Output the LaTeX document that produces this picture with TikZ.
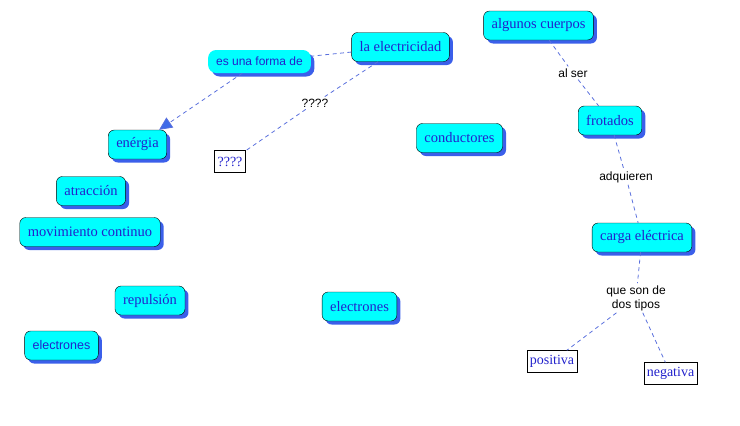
\documentclass[tikz,border=0pt]{standalone}
\usepackage{fontspec}
\setmainfont{Liberation Serif}
\setsansfont{Liberation Sans}
\usetikzlibrary{arrows.meta,shadows}
\definecolor{conceptfill}{HTML}{00FFFF}
\definecolor{conceptshadow}{HTML}{3B5FEA}
\definecolor{concepttext}{HTML}{2222CC}
\definecolor{linkblue}{HTML}{5A70DD}
\definecolor{arrowblue}{HTML}{3F6BE8}
\tikzset{
	concept/.style={rectangle, rounded corners=6pt, draw=black, fill=conceptfill,
		text=concepttext, font=\fontsize{14.5}{16}\selectfont, inner xsep=8pt,
		minimum height=29pt,
		drop shadow={shadow xshift=3.5pt, shadow yshift=-3.5pt, fill=conceptshadow, opacity=1}},
	sansconcept/.style={concept, font=\sffamily\fontsize{12.5}{14}\selectfont},
	phrasebox/.style={concept, draw=none, font=\sffamily\fontsize{12}{14}\selectfont,
		minimum height=23pt, rounded corners=8pt},
	plainbox/.style={rectangle, draw=black, fill=white, text=concepttext,
		font=\fontsize{14}{16}\selectfont, inner xsep=3pt, minimum height=22pt},
	linkword/.style={font=\sffamily\fontsize{12}{14}\selectfont, align=center, inner sep=2pt},
	link/.style={draw=linkblue, dashed, dash pattern=on 4pt off 3.5pt, line width=0.8pt}
}
\begin{document}
\begin{tikzpicture}[x=1pt, y=-1pt]
	\useasboundingbox (0,0) rectangle (740,426);
	% concepts
	\node[concept] (elec) at (400.5,47) {la electricidad};
	\node[phrasebox] (forma) at (259.5,61.5) {es una forma de};
	\node[concept] (energia) at (137.5,144.5) {enérgia};
	\node[plainbox] (qbox) at (230,161.5) {????};
	\node[concept] (atraccion) at (91,191) {atracción};
	\node[concept] (conductores) at (459.5,138) {conductores};
	\node[concept] (cuerpos) at (538.5,25.5) {algunos cuerpos};
	\node[concept] (frotados) at (610,120.5) {frotados};
	\node[concept] (carga) at (642,237.5) {carga eléctrica};
	\node[plainbox] (positiva) at (552,361.5) {positiva};
	\node[plainbox] (negativa) at (670.5,373.5) {negativa};
	\node[concept] (movimiento) at (90,232) {movimiento continuo};
	\node[concept] (repulsion) at (150,300.5) {repulsión};
	\node[concept] (electronesB) at (359.5,306.5) {electrones};
	\node[sansconcept] (electronesA) at (61.5,345.5) {electrones};
	% linking words
	\node[linkword] (qlabel) at (315,103) {????};
	\node[linkword] (alser) at (573,73) {al ser};
	\node[linkword] (adquieren) at (626,177) {adquieren};
	\node[linkword] (dostipos) at (636,298) {que son de\\dos tipos};
	% connectors
	\draw[link] (elec) -- (forma);
	\draw[link, -{Triangle[length=13pt, width=12pt, fill=arrowblue]}] (forma) -- (energia);
	\draw[link] (elec) -- (qlabel);
	\draw[link] (qlabel) -- (qbox);
	\draw[link] (cuerpos) -- (alser);
	\draw[link] (alser) -- (frotados);
	\draw[link] (frotados) -- (adquieren);
	\draw[link] (adquieren) -- (carga);
	\draw[link] (carga) -- (dostipos);
	\draw[link] (dostipos) -- (positiva);
	\draw[link] (dostipos) -- (negativa);
\end{tikzpicture}
\end{document}
